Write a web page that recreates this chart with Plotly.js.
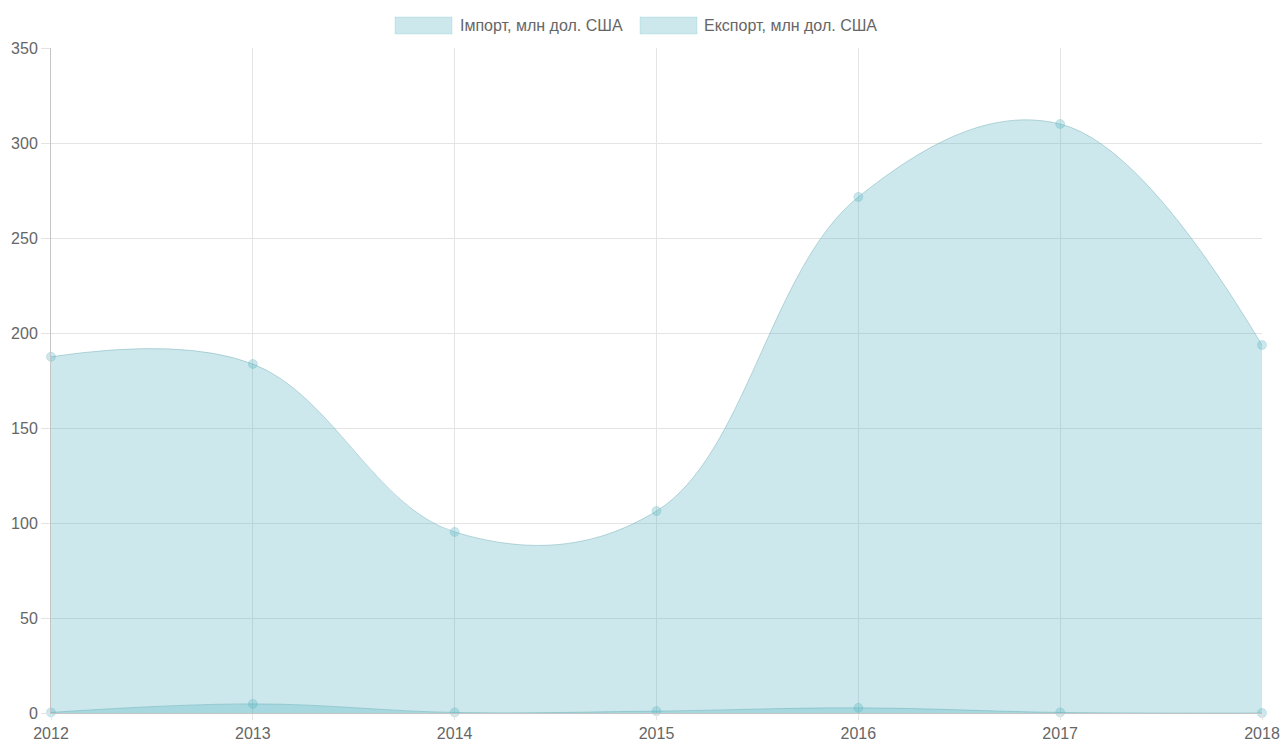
<!DOCTYPE html>
<html><head><meta charset="utf-8">
<script src="https://cdn.plot.ly/plotly-3.0.1.min.js"></script>
<style>html,body{margin:0;padding:0;background:#fff}#chart{width:1283px;height:742px}</style>
</head><body><div id="chart"></div>
<script>
const years = [2012, 2013, 2014, 2015, 2016, 2017, 2018];
const importValues = [0.3, 4.8, 0.3, 1.0, 2.7, 0.3, 0];
const exportValues = [187.5, 183.7, 95.3, 106.3, 271.6, 310.0, 193.7];
const seriesNames = ['Імпорт, млн дол. США', 'Експорт, млн дол. США'];

const fillCol = 'rgba(85,178,192,0.3)';
const lineCol = 'rgba(110,170,180,0.45)';
const font = {family: 'Liberation Sans, Arial, sans-serif', size: 16, color: '#666'};

function trace(y, name) {
  return {
    x: years, y: y, name: name, type: 'scatter', mode: 'lines+markers',
    fill: 'tozeroy', fillcolor: fillCol,
    line: {shape: 'spline', smoothing: 1.1, color: lineCol, width: 1},
    marker: {size: 9, color: fillCol, line: {color: 'rgba(85,178,192,0.25)', width: 1}},
    cliponaxis: false, showlegend: false, hoverinfo: 'x+y'
  };
}

const data = [trace(importValues, seriesNames[0]), trace(exportValues, seriesNames[1])];

const layout = {
  width: 1283, height: 742,
  margin: {l: 51, r: 21, t: 48, b: 29},
  paper_bgcolor: '#fff', plot_bgcolor: '#fff',
  font: font,
  xaxis: {
    range: [2012, 2018], tickvals: years, ticktext: years.map(String),
    showgrid: true, gridcolor: '#e4e4e4', gridwidth: 1,
    zeroline: false, showline: true, linecolor: '#c4c4c4', linewidth: 1,
    ticks: 'outside', ticklen: 6, tickcolor: '#e4e4e4', tickfont: font, fixedrange: true
  },
  yaxis: {
    range: [0, 350], tickvals: [0, 50, 100, 150, 200, 250, 300, 350],
    showgrid: true, gridcolor: '#e4e4e4', gridwidth: 1,
    zeroline: false, showline: true, linecolor: '#c4c4c4', linewidth: 1,
    ticks: 'outside', ticklen: 9, tickcolor: '#e4e4e4', tickfont: font, fixedrange: true
  },
  shapes: [
    {type: 'rect', xref: 'paper', yref: 'paper',
     x0: (395 - 51) / 1211, x1: (452 - 51) / 1211, y0: (713 - 34) / 665, y1: (713 - 17) / 665,
     fillcolor: fillCol, line: {color: 'rgba(85,178,192,0.2)', width: 1}},
    {type: 'rect', xref: 'paper', yref: 'paper',
     x0: (640 - 51) / 1211, x1: (697 - 51) / 1211, y0: (713 - 34) / 665, y1: (713 - 17) / 665,
     fillcolor: fillCol, line: {color: 'rgba(85,178,192,0.2)', width: 1}}
  ],
  annotations: [
    {text: seriesNames[0], xref: 'paper', yref: 'paper', x: (458 - 51) / 1211, y: (713 - 25.5) / 665,
     xanchor: 'left', yanchor: 'middle', showarrow: false, font: font},
    {text: seriesNames[1], xref: 'paper', yref: 'paper', x: (702 - 51) / 1211, y: (713 - 25.5) / 665,
     xanchor: 'left', yanchor: 'middle', showarrow: false, font: font}
  ]
};

Plotly.newPlot('chart', data, layout, {displayModeBar: false});
</script></body></html>
